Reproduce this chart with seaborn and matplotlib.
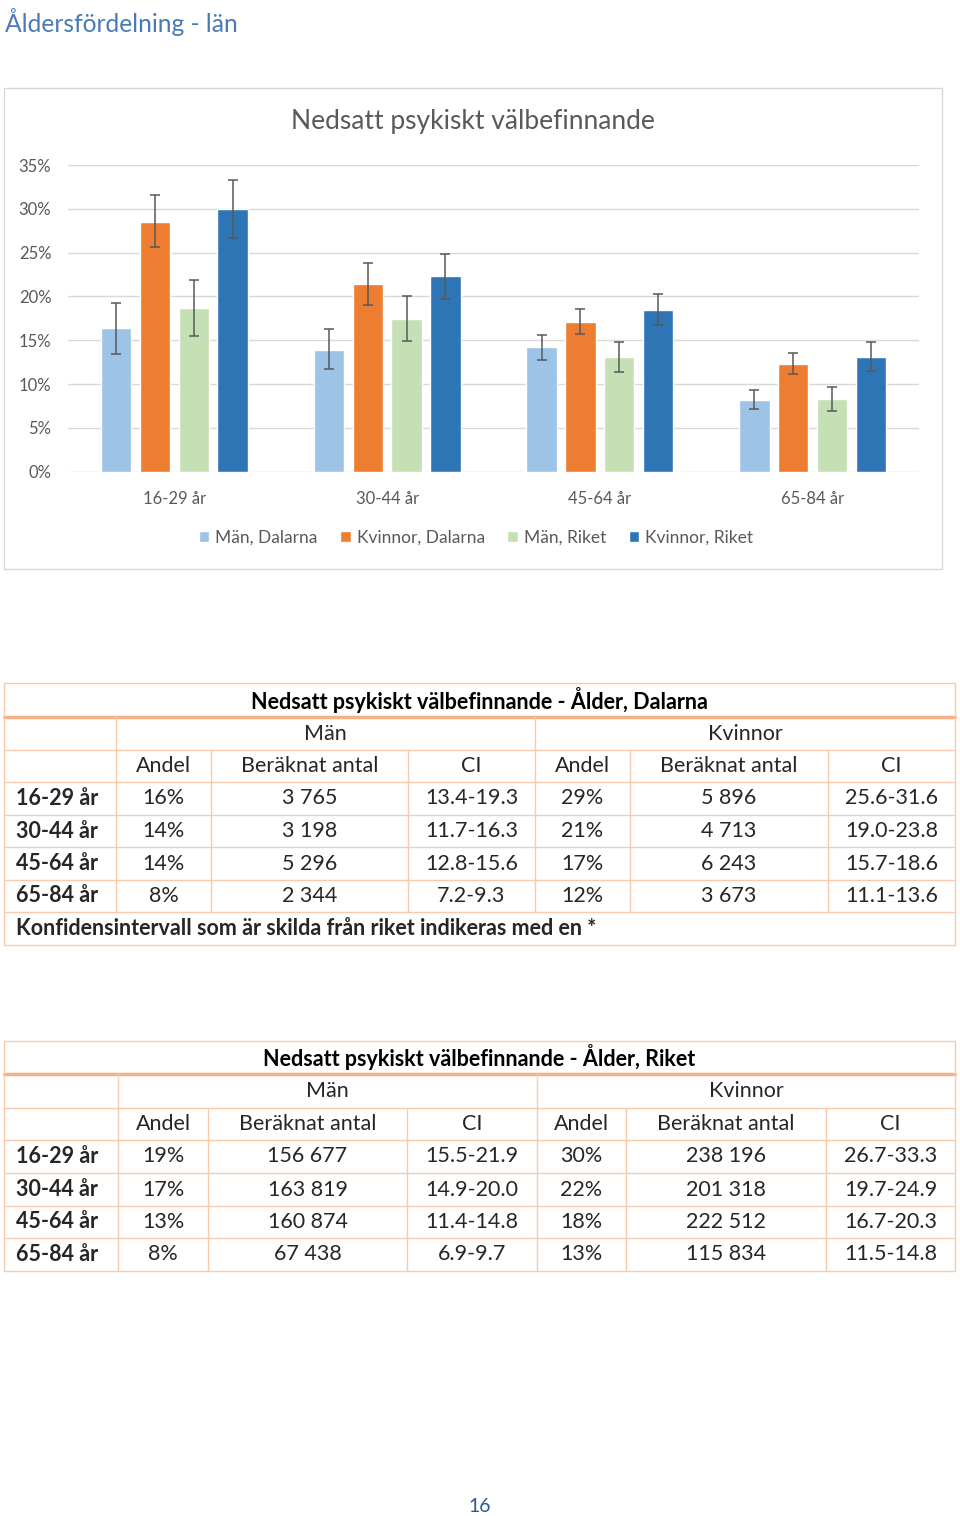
import pandas as pd
import seaborn as sns
import matplotlib.pyplot as plt
from matplotlib.patches import Rectangle
from matplotlib.ticker import FuncFormatter

# ======================= 1. Data ===================================
ages = ['16-29 år', '30-44 år', '45-64 år', '65-84 år']
groups = ['Män, Dalarna', 'Kvinnor, Dalarna', 'Män, Riket', 'Kvinnor, Riket']

# bar heights (percent)
man_dalarna = [16.4, 13.9, 14.2, 8.2]
kvinnor_dalarna = [28.5, 21.4, 17.1, 12.3]
man_riket = [18.7, 17.4, 13.1, 8.3]
kvinnor_riket = [30.0, 22.3, 18.4, 13.1]

# table Dalarna
dal_man_andel = ['16%', '14%', '14%', '8%']
dal_man_antal = ['3 765', '3 198', '5 296', '2 344']
dal_man_ci = ['13.4-19.3', '11.7-16.3', '12.8-15.6', '7.2-9.3']
dal_kv_andel = ['29%', '21%', '17%', '12%']
dal_kv_antal = ['5 896', '4 713', '6 243', '3 673']
dal_kv_ci = ['25.6-31.6', '19.0-23.8', '15.7-18.6', '11.1-13.6']

# table Riket
rik_man_andel = ['19%', '17%', '13%', '8%']
rik_man_antal = ['156 677', '163 819', '160 874', '67 438']
rik_man_ci = ['15.5-21.9', '14.9-20.0', '11.4-14.8', '6.9-9.7']
rik_kv_andel = ['30%', '22%', '18%', '13%']
rik_kv_antal = ['238 196', '201 318', '222 512', '115 834']
rik_kv_ci = ['26.7-33.3', '19.7-24.9', '16.7-20.3', '11.5-14.8']

colors = ['#9dc3e6', '#ed7d31', '#c5e0b4', '#2e75b6']
gray = '#595959'
grid = '#d9d9d9'
cell_line = '#f8cbad'

sns.set_theme(style='white')
plt.rcParams['font.family'] = ['Lato', 'DejaVu Sans']

W, H = 960, 1516
fig = plt.figure(figsize=(W / 100, H / 100), dpi=100)

# overlay axes in pixel coordinates for page text and tables
pg = fig.add_axes([0, 0, 1, 1])
pg.set_xlim(0, W)
pg.set_ylim(H, 0)
pg.axis('off')

pg.text(5, 22, 'Åldersfördelning - län', fontsize=17.7, color='#4a7ab5', va='center', ha='left')
pg.add_patch(Rectangle((4, 88), 938, 481, fill=False, edgecolor=grid, lw=1))
pg.text(473, 122, 'Nedsatt psykiskt välbefinnande', fontsize=19, color=gray, ha='center', va='center')

# ======================= 2. Bar chart ==============================
df = pd.DataFrame({
    'age': ages * 4,
    'group': [g for g in groups for _ in ages],
    'value': man_dalarna + kvinnor_dalarna + man_riket + kvinnor_riket,
})
ci_lists = [dal_man_ci, dal_kv_ci, rik_man_ci, rik_kv_ci]

ax = fig.add_axes([68 / W, 1 - 471.7 / H, (919 - 68) / W, (471.7 - 165) / H])
sns.barplot(data=df, x='age', y='value', hue='group', hue_order=groups, order=ages,
            palette=colors, width=0.73, gap=0.22, errorbar=None, saturation=1, ax=ax, zorder=3)

for cont, ci, vals in zip(ax.containers, ci_lists, [man_dalarna, kvinnor_dalarna, man_riket, kvinnor_riket]):
    xs = [p.get_x() + p.get_width() / 2 for p in cont.patches]
    lo = [float(c.split('-')[0]) for c in ci]
    hi = [float(c.split('-')[1]) for c in ci]
    ax.errorbar(xs, vals, yerr=[[v - l for v, l in zip(vals, lo)], [h - v for v, h in zip(vals, hi)]],
                fmt='none', ecolor=gray, elinewidth=1.1, capsize=3.6, capthick=1.1, zorder=4)

ax.set_xlim(-0.5, 3.5)
ax.set_ylim(0, 35)
ax.set_yticks(range(0, 36, 5))
ax.yaxis.set_major_formatter(FuncFormatter(lambda v, _: f'{v:.0f}%'))
ax.grid(axis='y', color=grid, lw=1, zorder=0)
ax.set_axisbelow(True)
for s in ax.spines.values():
    s.set_visible(False)
ax.tick_params(axis='y', length=0, pad=12, labelsize=12, labelcolor=gray)
ax.tick_params(axis='x', length=0, pad=14, labelsize=12, labelcolor=gray)
ax.set_xlabel('')
ax.set_ylabel('')
ax.legend(loc='center', bbox_to_anchor=(476 / W, 1 - 538 / H), bbox_transform=fig.transFigure,
          ncol=4, frameon=False, fontsize=12.5, labelcolor=gray, handlelength=0.6, handleheight=0.6,
          handletextpad=0.35, columnspacing=1.3)


# ======================= 3. Tables =================================
def draw_table(top, rows_y, cols_x, title, cells, foot=None):
    left, right = cols_x[0], cols_x[-1]
    mid = cols_x[4]
    bottom = rows_y[-1]
    # outer frame and horizontal lines
    pg.plot([left, right], [top, top], color=cell_line, lw=1)
    pg.plot([left, right], [rows_y[0], rows_y[0]], color='#f4b183', lw=2.5)
    for y in rows_y[1:]:
        pg.plot([left, right], [y, y], color=cell_line, lw=1)
    pg.plot([left, left], [top, bottom], color=cell_line, lw=1)
    pg.plot([right, right], [top, bottom], color=cell_line, lw=1)
    body_bottom = rows_y[6]
    pg.plot([cols_x[1], cols_x[1]], [rows_y[0], body_bottom], color=cell_line, lw=1)
    pg.plot([mid, mid], [rows_y[0], body_bottom], color=cell_line, lw=1)
    for x in [cols_x[2], cols_x[3], cols_x[5], cols_x[6]]:
        pg.plot([x, x], [rows_y[1], body_bottom], color=cell_line, lw=1)

    fs = 15.5
    pg.text((left + right) / 2, (top + rows_y[0]) / 2, title, fontsize=fs, fontweight='bold',
            ha='center', va='center', color='black')
    pg.text((cols_x[1] + mid) / 2, (rows_y[0] + rows_y[1]) / 2, 'Män', fontsize=fs, ha='center', va='center')
    pg.text((mid + right) / 2, (rows_y[0] + rows_y[1]) / 2, 'Kvinnor', fontsize=fs, ha='center', va='center')
    heads = ['Andel', 'Beräknat antal', 'CI'] * 2
    for i, h in enumerate(heads):
        pg.text((cols_x[i + 1] + cols_x[i + 2]) / 2, (rows_y[1] + rows_y[2]) / 2, h,
                fontsize=fs, ha='center', va='center')
    for r, age in enumerate(ages):
        yc = (rows_y[r + 2] + rows_y[r + 3]) / 2
        pg.text(left + 12, yc, age, fontsize=fs, fontweight='bold', ha='left', va='center')
        for c, col in enumerate(cells):
            pg.text((cols_x[c + 1] + cols_x[c + 2]) / 2, yc, col[r], fontsize=fs, ha='center', va='center')
    if foot:
        pg.text(left + 12, (rows_y[6] + rows_y[7]) / 2, foot, fontsize=fs, fontweight='bold',
                ha='left', va='center')


draw_table(683, [717, 750, 782, 815, 847, 880, 912, 945],
           [4, 116, 211, 408, 535, 630, 828, 955],
           'Nedsatt psykiskt välbefinnande - Ålder, Dalarna',
           [dal_man_andel, dal_man_antal, dal_man_ci, dal_kv_andel, dal_kv_antal, dal_kv_ci],
           foot='Konfidensintervall som är skilda från riket indikeras med en *')

draw_table(1041, [1074, 1108, 1140, 1173, 1206, 1238, 1271],
           [4, 118, 208, 407, 537, 626, 826, 955],
           'Nedsatt psykiskt välbefinnande - Ålder, Riket',
           [rik_man_andel, rik_man_antal, rik_man_ci, rik_kv_andel, rik_kv_antal, rik_kv_ci])

pg.text(480, 1506, '16', fontsize=14, color='#2f5597', ha='center', va='center')

fig.savefig('out.png', dpi=100)
